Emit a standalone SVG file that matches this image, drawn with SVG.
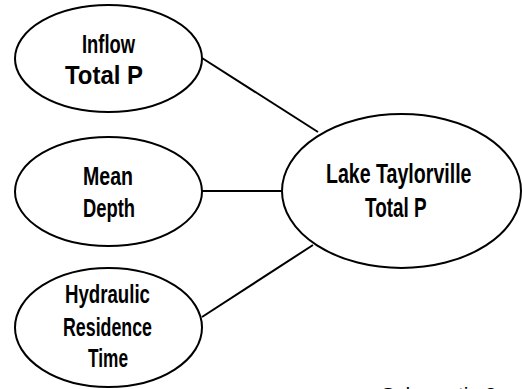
<svg xmlns="http://www.w3.org/2000/svg" width="522" height="389" viewBox="0 0 522 389">
<style>
.node ellipse{fill:#fff;stroke:#000;stroke-width:2}
.node text{font-family:"Liberation Sans",Arial,sans-serif;font-weight:bold;font-size:25px;fill:#000}
.node .big{font-size:27px}
.edges line{stroke:#000;stroke-width:2}
.cap{font-family:"Liberation Sans",Arial,sans-serif;font-size:21px;fill:#000}
</style>
<rect width="522" height="389" fill="#fff"/>
<g class="edges">
<line x1="202" y1="58" x2="318" y2="132"/>
<line x1="202" y1="191" x2="283" y2="191"/>
<line x1="202" y1="317" x2="313" y2="245"/>
</g>
<g id="inflow" class="node">
<ellipse cx="108.5" cy="58.5" rx="93.5" ry="53.5"/>
<text x="82" y="53" textLength="53" lengthAdjust="spacingAndGlyphs">Inflow</text>
<text x="65" y="84" textLength="78" lengthAdjust="spacingAndGlyphs">Total P</text>
</g>
<g id="depth" class="node">
<ellipse cx="108.5" cy="191.5" rx="93.5" ry="54.5"/>
<text x="83" y="185" textLength="50" lengthAdjust="spacingAndGlyphs">Mean</text>
<text x="83" y="217" textLength="52" lengthAdjust="spacingAndGlyphs">Depth</text>
</g>
<g id="residence" class="node">
<ellipse cx="108.5" cy="327.5" rx="93.5" ry="59.5"/>
<text x="65" y="303" textLength="85" lengthAdjust="spacingAndGlyphs">Hydraulic</text>
<text x="63" y="336" textLength="89" lengthAdjust="spacingAndGlyphs">Residence</text>
<text x="88" y="367" textLength="40" lengthAdjust="spacingAndGlyphs">Time</text>
</g>
<g id="lake" class="node">
<ellipse cx="401.5" cy="191" rx="119.5" ry="77"/>
<text class="big" transform="translate(326,183) scale(0.7256,1)">Lake Taylorville</text>
<text class="big" transform="translate(365,217) scale(0.7,1)">Total P</text>
</g>
<text class="cap" x="381" y="402">Schematic 2</text>
</svg>
